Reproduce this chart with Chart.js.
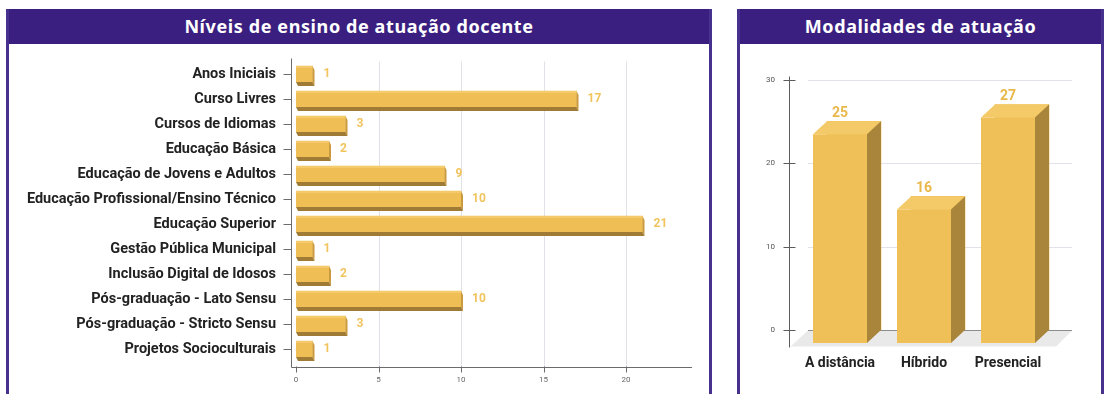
<!DOCTYPE html>
<html>
<head>
<meta charset="utf-8">
<script src="https://cdn.jsdelivr.net/npm/chart.js@4.4.0/dist/chart.umd.min.js"></script>
<style>
  html, body { margin:0; padding:0; background:#fff; width:1105px; height:394px; overflow:hidden; }
  .panel { position:absolute; top:9px; height:400px; box-sizing:border-box;
           border-left:3px solid #47318f; border-right:3px solid #47318f; background:#fff; }
  .head { height:35px; background:#3b1f80; color:#fff; text-align:center; line-height:35px;
          font-family:"Noto Sans", sans-serif; font-weight:700; font-size:18px; letter-spacing:0.6px; }
  canvas { position:absolute; left:0; top:0; }
</style>
</head>
<body>
<div class="panel" style="left:6px; width:706px;"><div class="head">Níveis de ensino de atuação docente</div></div>
<div class="panel" style="left:737px; width:367px;"><div class="head">Modalidades de atuação</div></div>
<canvas id="levelsChart" width="1105" height="394"></canvas>
<canvas id="modesChart" width="1105" height="394"></canvas>
<script>
// levels of teaching (left chart)
const levels = [
  'Anos Iniciais', 'Curso Livres', 'Cursos de Idiomas', 'Educação Básica',
  'Educação de Jovens e Adultos', 'Educação Profissional/Ensino Técnico', 'Educação Superior',
  'Gestão Pública Municipal', 'Inclusão Digital de Idosos', 'Pós-graduação - Lato Sensu',
  'Pós-graduação - Stricto Sensu', 'Projetos Socioculturais'
];
const levelCounts = [1, 17, 3, 2, 9, 10, 21, 1, 2, 10, 3, 1];
const levelTicks = [0, 5, 10, 15, 20];

// modalities (right chart)
const modes = ['A distância', 'Híbrido', 'Presencial'];
const modeCounts = [25, 16, 27];
const modeTicks = [0, 10, 20, 30];

Chart.defaults.font.family = 'Roboto';

function poly(ctx, pts, color) {
  ctx.fillStyle = color;
  ctx.beginPath();
  ctx.moveTo(pts[0][0], pts[0][1]);
  for (let i = 1; i < pts.length; i++) ctx.lineTo(pts[i][0], pts[i][1]);
  ctx.closePath();
  ctx.fill();
}
function line(ctx, x0, y0, x1, y1) {
  ctx.beginPath(); ctx.moveTo(x0, y0); ctx.lineTo(x1, y1); ctx.stroke();
}

// axes, grid and 3d look for the horizontal bars
const depthH = {
  id: 'depthH',
  beforeDatasetsDraw(chart) {
    const { ctx, chartArea: a, scales: { x, y } } = chart;
    const axisX = a.left - 4.5, axisY = Math.round(a.bottom + 5) + 0.5;
    ctx.save();
    ctx.lineWidth = 1;
    ctx.strokeStyle = '#e1e1ea';
    x.ticks.forEach(t => {
      if (t.value === 0) return;
      const px = Math.round(x.getPixelForValue(t.value)) + 0.5;
      line(ctx, px, a.top, px, axisY);
    });
    ctx.strokeStyle = '#6b6b6b';
    line(ctx, axisX, a.top - 3, axisX, axisY);
    line(ctx, axisX, axisY, a.right, axisY);
    levels.forEach((l, i) => {
      const py = Math.round(y.getPixelForValue(i)) + 0.5;
      line(ctx, axisX - 8, py, axisX, py);
    });
    x.ticks.forEach(t => {
      const px = Math.round(x.getPixelForValue(t.value)) + 0.5;
      line(ctx, px, axisY - 1, px, axisY + 5);
    });
    ctx.restore();
  },
  afterDatasetsDraw(chart) {
    const { ctx } = chart;
    const dx = 2, dy = 4;
    ctx.save();
    chart.getDatasetMeta(0).data.forEach((bar, i) => {
      const p = bar.getProps(['x', 'y', 'base', 'height'], true);
      const x0 = p.base, x1 = p.x, y0 = p.y - p.height / 2, y1 = p.y + p.height / 2;
      poly(ctx, [[x1, y0], [x1 + dx, y0 + dy], [x1 + dx, y1 + dy], [x1, y1]], '#c99a3f');
      poly(ctx, [[x0, y1], [x1, y1], [x1 + dx, y1 + dy], [x0 + dx, y1 + dy]], '#a07b36');
      poly(ctx, [[x0, y0], [x1, y0], [x1, y0 + 2], [x0, y0 + 2]], '#f4ca6a');
      ctx.fillStyle = '#f1c45e';
      ctx.font = 'bold 12px Roboto';
      ctx.textAlign = 'left';
      ctx.textBaseline = 'middle';
      ctx.fillText(String(levelCounts[i]), x1 + 11, p.y);
    });
    ctx.restore();
  }
};

// floor, grid and 3d boxes for the vertical bars
const depthV = {
  id: 'depthV',
  beforeDatasetsDraw(chart) {
    const { ctx, chartArea: a, scales: { y } } = chart;
    const zero = Math.round(y.getPixelForValue(0)) + 0.5;
    const axisX = Math.round(a.left - 23) + 0.5;
    ctx.save();
    poly(ctx, [[a.left - 4, zero], [a.right + 8, zero], [a.right - 8, zero + 16], [axisX + 1, zero + 16]], '#e9e9e9');
    ctx.lineWidth = 1;
    y.ticks.forEach(t => {
      const py = Math.round(y.getPixelForValue(t.value)) + 0.5;
      ctx.strokeStyle = t.value === 0 ? '#8c8c8c' : '#e2e2ea';
      line(ctx, a.left - 4, py, a.right + 8, py);
      ctx.strokeStyle = '#5c5c5c';
      line(ctx, axisX - 6, py, axisX + 6, py);
    });
    ctx.strokeStyle = '#5c5c5c';
    line(ctx, axisX, a.top - 3, axisX, zero + 17);
    ctx.restore();
  },
  afterDatasetsDraw(chart) {
    const { ctx } = chart;
    const dx = 14, dy = 13;
    ctx.save();
    chart.getDatasetMeta(0).data.forEach((bar, i) => {
      const p = bar.getProps(['x', 'y', 'base', 'width'], true);
      const bx0 = p.x - p.width / 2, bx1 = p.x + p.width / 2, top = p.y, bottom = p.base;
      poly(ctx, [[bx0 - dx, top + dy], [bx1 - dx, top + dy], [bx1 - dx, bottom + dy], [bx0 - dx, bottom + dy]], '#f0c058');
      poly(ctx, [[bx0 - dx, top + dy], [bx1 - dx, top + dy], [bx1, top], [bx0, top]], '#f4ca68');
      poly(ctx, [[bx1 - dx, top + dy], [bx1, top], [bx1, bottom], [bx1 - dx, bottom + dy]], '#a9853c');
      ctx.fillStyle = '#e9b84b';
      ctx.font = 'bold 14px Roboto';
      ctx.textAlign = 'center';
      ctx.textBaseline = 'middle';
      ctx.fillText(String(modeCounts[i]), p.x - dx, top - 8);
    });
    ctx.restore();
  }
};

new Chart(document.getElementById('levelsChart'), {
  type: 'bar',
  data: {
    labels: levels,
    datasets: [{ data: levelCounts, backgroundColor: '#efbe55', barThickness: 16 }]
  },
  options: {
    indexAxis: 'y',
    responsive: false,
    animation: false,
    events: [],
    layout: { padding: { left: 10, top: 61.5, right: 413, bottom: 0 } },
    plugins: { legend: { display: false }, tooltip: { enabled: false } },
    scales: {
      x: {
        min: 0, max: 24,
        afterBuildTicks: s => { s.ticks = levelTicks.map(v => ({ value: v })); },
        afterFit: s => { s.height = 32.5; },
        grid: { display: false, drawTicks: false },
        border: { display: false },
        ticks: { padding: 14, font: { size: 8 }, color: '#666' }
      },
      y: {
        afterFit: s => { s.width = 286; },
        grid: { display: false, drawTicks: false },
        border: { display: false },
        ticks: { padding: 20, font: { size: 14.5, weight: 'bold' }, color: '#222' }
      }
    }
  },
  plugins: [depthH]
});

new Chart(document.getElementById('modesChart'), {
  type: 'bar',
  data: {
    labels: modes,
    datasets: [{ data: modeCounts, backgroundColor: '#f0c058', barThickness: 54 }]
  },
  options: {
    responsive: false,
    animation: false,
    events: [],
    layout: { padding: { left: 745, top: 79.5, right: 41, bottom: 0 } },
    plugins: { legend: { display: false }, tooltip: { enabled: false } },
    scales: {
      x: {
        afterFit: s => { s.height = 64; },
        grid: { display: false, drawTicks: false },
        border: { display: false },
        ticks: { padding: 25, labelOffset: -14, font: { size: 14, weight: 'bold' }, color: '#222' }
      },
      y: {
        min: 0, max: 30,
        afterBuildTicks: s => { s.ticks = modeTicks.map(v => ({ value: v })); },
        afterFit: s => { s.width = 67; },
        grid: { display: false, drawTicks: false },
        border: { display: false },
        ticks: { padding: 37, font: { size: 8 }, color: '#555' }
      }
    }
  },
  plugins: [depthV]
});
</script>
</body>
</html>
